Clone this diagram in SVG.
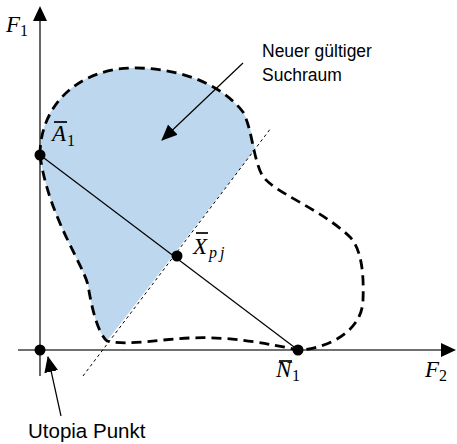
<svg xmlns="http://www.w3.org/2000/svg" width="457" height="444" viewBox="0 0 457 444">
<style>
.axis{stroke:#404040;stroke-width:1.6;fill:none}
.blob{fill:none;stroke:#000;stroke-width:2.8;stroke-dasharray:10 6}
.dot{fill:#000}
.m{font-family:"Liberation Serif","DejaVu Serif",serif;font-style:italic;font-size:23px;fill:#000}
.s{font-family:"Liberation Serif","DejaVu Serif",serif;font-size:16px;fill:#000}
.si{font-family:"Liberation Serif","DejaVu Serif",serif;font-style:italic;font-size:16px;fill:#000}
.lbl{font-family:"Liberation Sans",Arial,sans-serif;font-size:17.5px;fill:#000}
.lbl2{font-family:"Liberation Sans",Arial,sans-serif;font-size:20.5px;fill:#000}
.bar{stroke:#000;stroke-width:1.7}
</style>
<defs>
<marker id="ah2" markerWidth="16" markerHeight="14" refX="15" refY="7" orient="auto" markerUnits="userSpaceOnUse" viewBox="0 0 16 14">
<path d="M0,0 L16,7 L0,14 Z" fill="#000"/>
</marker>
</defs>
<g id="region">
<path d="M40,155 C40,105 78,70 130,68 C175,67 220,82 243,112 C250,124 253,138 255,149 L107,341 C98,333 92,310 88,285 C82,262 48,215 40,155 Z" fill="#BDD7EE"/>
</g>
<g id="axes">
<line class="axis" x1="40" y1="20" x2="40" y2="376"/>
<path d="M33,21 L40,6 L47,21 Z" fill="#000"/>
<line class="axis" x1="18" y1="350" x2="442" y2="350"/>
<path d="M441,343 L456,350 L441,357 Z" fill="#000"/>
</g>
<g id="connectors">
<path class="blob" d="M40,155 C40,105 78,70 130,68 C175,67 220,82 243,112 C252,128 253,158 262,175 C272,192 320,208 350,237 C362,250 364,275 363,300 C362,335 320,350 298,350 C270,344 230,336 190,338 C160,339 130,346 107,341 C98,333 92,310 88,285 C82,262 48,215 40,155"/>
<line x1="83" y1="376" x2="271" y2="128" stroke="#000" stroke-width="1" stroke-dasharray="3 3"/>
<line x1="40" y1="155" x2="298" y2="350" stroke="#000" stroke-width="1.2"/>
<line x1="243" y1="63" x2="162" y2="140" stroke="#000" stroke-width="1.2" marker-end="url(#ah2)"/>
<line x1="61" y1="416" x2="48" y2="357" stroke="#000" stroke-width="1.2" marker-end="url(#ah2)"/>
</g>
<g id="origin"><circle class="dot" cx="40" cy="350" r="5.5"/></g>
<g id="A1">
<circle class="dot" cx="40" cy="155" r="5.5"/>
<line class="bar" x1="54" y1="122" x2="67" y2="122"/>
<text class="m" x="52" y="141">A</text><text class="s" x="67" y="146">1</text>
</g>
<g id="Xpj">
<circle class="dot" cx="177" cy="256" r="5.5"/>
<line class="bar" x1="196" y1="233" x2="208" y2="233"/>
<text class="m" x="193" y="254">X</text><text class="si" x="209" y="258" letter-spacing="3">pj</text>
</g>
<g id="N1">
<circle class="dot" cx="298" cy="350" r="5.5"/>
<line class="bar" x1="279" y1="361" x2="292" y2="361"/>
<text class="m" x="276" y="377">N</text><text class="s" x="292" y="381">1</text>
</g>
<g id="F1"><text class="m" x="6" y="32">F</text><text class="s" x="20" y="36">1</text></g>
<g id="F2"><text class="m" x="425" y="377">F</text><text class="s" x="439" y="381">2</text></g>
<g id="label-suchraum">
<text class="lbl" x="262" y="57">Neuer gültiger</text>
<text class="lbl" x="262" y="81">Suchraum</text>
</g>
<g id="label-utopia"><text class="lbl2" x="28" y="438">Utopia Punkt</text></g>
</svg>
